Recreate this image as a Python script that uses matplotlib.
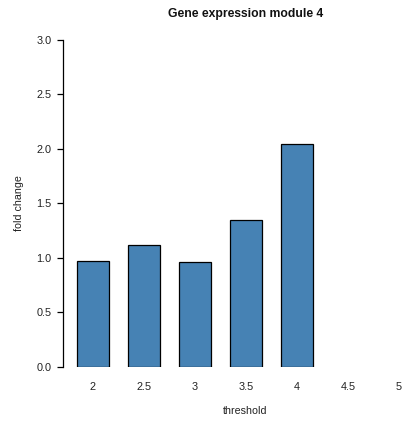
import matplotlib.pyplot as plt
import numpy as np

plt.rcParams['font.family'] = ['Liberation Sans', 'DejaVu Sans']

thresholds = ["2", "2.5", "3", "3.5", "4", "4.5", "5"]
fold_change = [0.97, 1.12, 0.96, 1.35, 2.04, np.nan, np.nan]
y_ticks = [0.0, 0.5, 1.0, 1.5, 2.0, 2.5, 3.0]

W, H = 404, 424
fig = plt.figure(figsize=(W / 100, H / 100), dpi=100)

# axes placed in pixel terms: left edge at the y axis line
left, right, top, bottom = 63, 404, 39.5, 367
ax = fig.add_axes([left / W, 1 - bottom / H, (right - left) / W, (bottom - top) / H])

x = np.arange(len(thresholds))
ax.bar(x, fold_change, width=0.63, color='steelblue', edgecolor='black', linewidth=0.9)

ax.set_xlim((left - 93) / 51, (right - 93) / 51)
ax.set_ylim(0, 3.0)
ax.set_xticks(x)
ax.set_xticklabels(thresholds)
ax.set_yticks(y_ticks)
ax.set_yticklabels([f"{v:.1f}" for v in y_ticks])

for s in ['top', 'right', 'bottom']:
    ax.spines[s].set_visible(False)
ax.spines['left'].set_bounds(0, 3.0)
ax.spines['left'].set_linewidth(0.9)

ax.tick_params(axis='x', length=0, pad=11, labelsize=7.8, labelcolor='#222222')
ax.tick_params(axis='y', length=4.3, width=0.9, pad=4, labelsize=7.8,
               colors='black', labelcolor='#222222')

fig.text(245.5 / W, 1 - 14 / H, "Gene expression module 4", ha='center', va='center',
         fontsize=8.7, fontweight='bold', color='#111111')
fig.text(245.5 / W, 1 - 411.5 / H, "threshold", ha='center', va='center',
         fontsize=7.7, color='#222222')
fig.text(19.5 / W, 1 - 203 / H, "fold change", ha='center', va='center',
         rotation=90, fontsize=7.7, color='#222222')

fig.savefig("out.png", dpi=100)
